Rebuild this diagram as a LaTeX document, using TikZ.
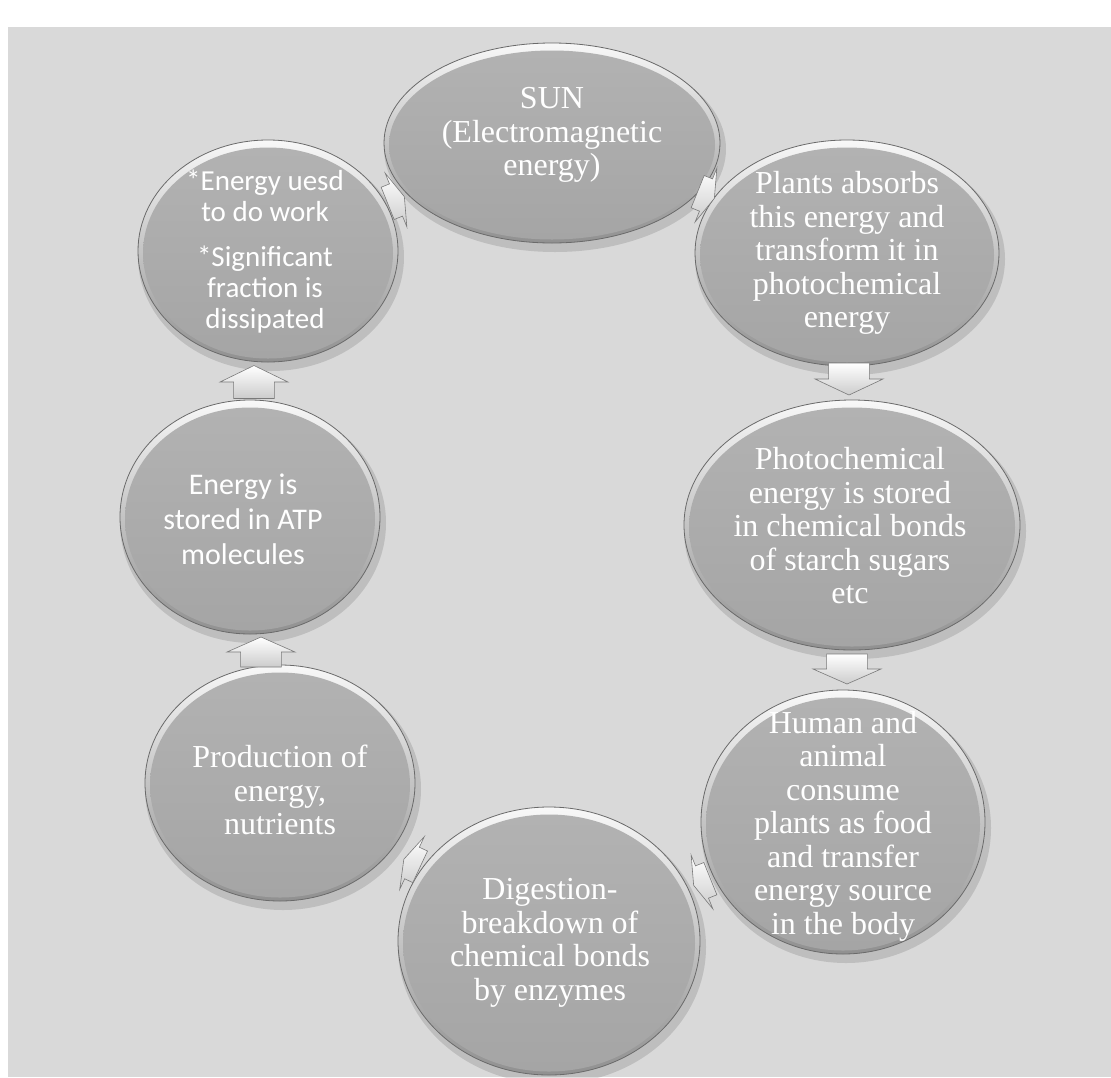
\documentclass[tikz,border=0pt]{standalone}
\usepackage{fontspec}
\setmainfont{Liberation Serif}
\newfontfamily\calfont{Carlito}
\usetikzlibrary{shapes.geometric}
\definecolor{bggray}{HTML}{D9D9D9}
\definecolor{coretop}{HTML}{B2B2B2}
\definecolor{corebot}{HTML}{A5A5A5}
\definecolor{rimtop}{HTML}{F8F8F8}
\definecolor{rimbot}{HTML}{909090}
\definecolor{rimline}{HTML}{6A6A6A}
\definecolor{arrline}{HTML}{7A7A7A}
\tikzset{
  rimshape/.style={ellipse, inner sep=0pt, outer sep=0pt, draw=rimline, line width=0.8pt, top color=rimtop, bottom color=rimbot},
  coreshape/.style={ellipse, inner sep=0pt, outer sep=0pt, top color=coretop, bottom color=corebot},
  shadowshape/.style={ellipse, inner sep=0pt, fill=black, opacity=0.12},
  serlabel/.style={text=white, align=center, inner sep=0pt, font=\fontsize{32}{33.5}\selectfont},
  callabel/.style={text=white, align=center, inner sep=0pt, font=\calfont\fontsize{29}{31}\selectfont},
  blockarrow/.style={draw=arrline, line width=0.6pt, top color=white, bottom color=gray!40, line join=miter},
}
\newcommand\bub[5]{%
  \node[shadowshape, minimum width={2*#4+6}, minimum height={2*#5+6}] at (#2+3,#3+6) {};
  \node[rimshape, minimum width={2*#4}, minimum height={2*#5}] (#1) at (#2,#3) {};
  \node[coreshape, minimum width={2*#4-10}, minimum height={2*#5-11}] (#1core) at (#2,#3+2) {};
}
\newcommand\blockarr[6]{%
  \coordinate (#1) at (#2,#3);
  \begin{scope}[shift={(#1)}, rotate=#4]
    \path[blockarrow] (-#5/2,#6*0.3) -- (0,#6*0.3) -- (0,#6/2) -- (#5/2,0) -- (0,-#6/2) -- (0,-#6*0.3) -- (-#5/2,-#6*0.3) -- cycle;
  \end{scope}}
\begin{document}
\begin{tikzpicture}[x=1pt,y=-1pt]
\useasboundingbox (0,0) rectangle (1111,1077);
\fill[white] (0,0) rectangle (1111,1077);
\fill[bggray] (8,27) rectangle (1111,1077);

\bub{sun}{552}{143}{168}{100}
\bub{plants}{847}{253}{152}{113}
\bub{photo}{852}{525}{168}{125}
\bub{human}{843}{822}{142}{132}
\bub{digest}{549}{941}{151}{134}
\bub{prod}{280}{783}{135}{118}
\bub{atp}{250}{517}{130}{117}
\bub{work}{268}{251}{130}{111}

\node[serlabel] (sunT) at (552,135) {SUN\\(Electromagnetic\\energy)};
\node[serlabel] (plantsT) at (847,253) {Plants absorbs\\this energy and\\transform it in\\photochemical\\energy};
\node[serlabel] (photoT) at (850,526) {Photochemical\\energy is stored\\in chemical bonds\\of starch sugars\\etc};
\node[serlabel] (humanT) at (843,826) {Human and\\animal\\consume\\plants as food\\and transfer\\energy source\\in the body};
\node[serlabel] (digestT) at (550,943) {Digestion-\\breakdown of\\chemical bonds\\by enzymes};
\node[serlabel] (prodT) at (280,790) {Production of\\energy,\\nutrients};
\node[callabel, font=\calfont\fontsize{30}{35}\selectfont] (atpT) at (243,519) {Energy is\\stored in ATP\\molecules};
\node[callabel] (workT) at (265,252) {*Energy uesd\\to do work\\[14pt]*Significant\\fraction is\\dissipated};

\blockarr{a1}{396}{200}{22}{18}{58}
\blockarr{a2}{706}{195}{-22}{18}{58}
\blockarr{a3}{849}{379}{-90}{32}{68}
\blockarr{a4}{847}{669}{-90}{30}{68}
\blockarr{a5}{702}{882}{202}{18}{58}
\blockarr{a6}{412}{863}{155}{18}{58}
\blockarr{a7}{261}{652}{90}{30}{68}
\blockarr{a8}{254}{382}{90}{33}{68}
\end{tikzpicture}
\end{document}
